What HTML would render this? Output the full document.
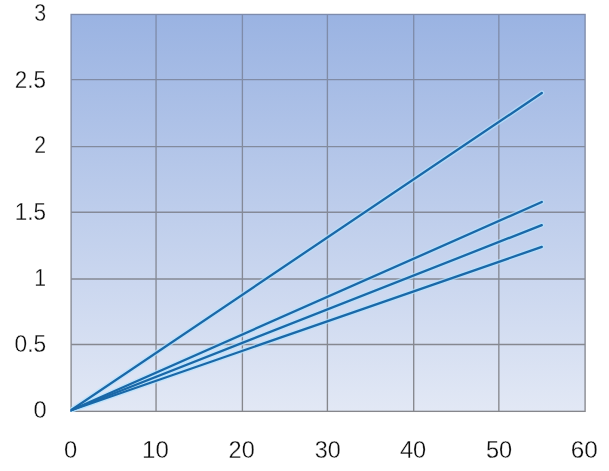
<!DOCTYPE html>
<html>
<head>
<meta charset="utf-8">
<title>Chart</title>
<style>
html,body{margin:0;padding:0;background:#fff;}
body{width:609px;height:471px;overflow:hidden;}
svg{display:block;}
text{font-family:"Liberation Sans",sans-serif;font-size:23.2px;fill:#0c0c0c;stroke:#fff;stroke-width:0.3px;}
</style>
</head>
<body>
<svg width="609" height="471" viewBox="0 0 609 471">
  <defs>
    <linearGradient id="bg" x1="0" y1="0" x2="0" y2="1">
      <stop offset="0" stop-color="#9ab3e2"/>
      <stop offset="1" stop-color="#e2e8f5"/>
    </linearGradient>
    <linearGradient id="gl" gradientUnits="userSpaceOnUse" x1="0" y1="14" x2="0" y2="412">
      <stop offset="0" stop-color="#7e8cac"/>
      <stop offset="0.4" stop-color="#848a9a"/>
      <stop offset="1" stop-color="#86878c"/>
    </linearGradient>
  </defs>
  <rect x="0" y="0" width="609" height="471" fill="#fff"/>
  <rect x="71.1" y="14.45" width="514" height="396.9" fill="url(#bg)"/>
  <g stroke="url(#gl)" stroke-width="1.35" fill="none">
    <line x1="71.1" y1="79.55" x2="585.1" y2="79.55"/>
    <line x1="71.1" y1="146.6" x2="585.1" y2="146.6"/>
    <line x1="71.1" y1="212.2" x2="585.1" y2="212.2"/>
    <line x1="71.1" y1="279" x2="585.1" y2="279"/>
    <line x1="71.1" y1="344.45" x2="585.1" y2="344.45"/>
    <line x1="156.05" y1="14.45" x2="156.05" y2="411.35"/>
    <line x1="242.4" y1="14.45" x2="242.4" y2="411.35"/>
    <line x1="327.4" y1="14.45" x2="327.4" y2="411.35"/>
    <line x1="413.7" y1="14.45" x2="413.7" y2="411.35"/>
    <line x1="498.85" y1="14.45" x2="498.85" y2="411.35"/>
    <rect x="71.1" y="14.45" width="514" height="396.9"/>
  </g>
  <clipPath id="plot"><rect x="70.7" y="13.8" width="515" height="397.9"/></clipPath>
  <g clip-path="url(#plot)">
  <g stroke="#b4e2ff" stroke-opacity="0.7" stroke-width="5" stroke-linecap="round" fill="none">
    <line x1="70.5" y1="410.5" x2="541.8" y2="93"/>
    <line x1="70.5" y1="410.5" x2="541.8" y2="202"/>
    <line x1="70.5" y1="410.5" x2="541.8" y2="225.1"/>
    <line x1="70.5" y1="410.5" x2="541.8" y2="246.9"/>
  </g>
  <g stroke="#1a68a8" stroke-width="2.3" stroke-linecap="round" fill="none">
    <line x1="70.5" y1="410.5" x2="541.8" y2="93"/>
    <line x1="70.5" y1="410.5" x2="541.8" y2="202"/>
    <line x1="70.5" y1="410.5" x2="541.8" y2="225.1"/>
    <line x1="70.5" y1="410.5" x2="541.8" y2="246.9"/>
  </g>
  </g>
  <g>
    <text transform="translate(34.14 21.40) scale(0.922 1.000)">3</text>
    <text transform="translate(14.84 87.50) scale(0.968 1.000)">2.5</text>
    <text transform="translate(34.33 153.10) scale(0.917 1.000)">2</text>
    <text transform="translate(14.73 219.90) scale(0.972 1.000)">1.5</text>
    <text transform="translate(34.34 285.70) scale(0.914 1.000)">1</text>
    <text transform="translate(14.50 352.40) scale(0.980 1.000)">0.5</text>
    <text transform="translate(33.45 418.30) scale(1.019 1.000)">0</text>
    <text transform="translate(63.95 458.10) scale(1.023 1.000)">0</text>
    <text transform="translate(142.03 458.10) scale(1.037 1.000)">10</text>
    <text transform="translate(228.56 458.10) scale(1.013 1.000)">20</text>
    <text transform="translate(314.69 458.10) scale(1.007 1.000)">30</text>
    <text transform="translate(399.91 458.10) scale(1.017 1.000)">40</text>
    <text transform="translate(485.90 458.10) scale(1.017 1.000)">50</text>
    <text transform="translate(570.74 458.10) scale(1.048 1.000)">60</text>
  </g>
</svg>
</body>
</html>
